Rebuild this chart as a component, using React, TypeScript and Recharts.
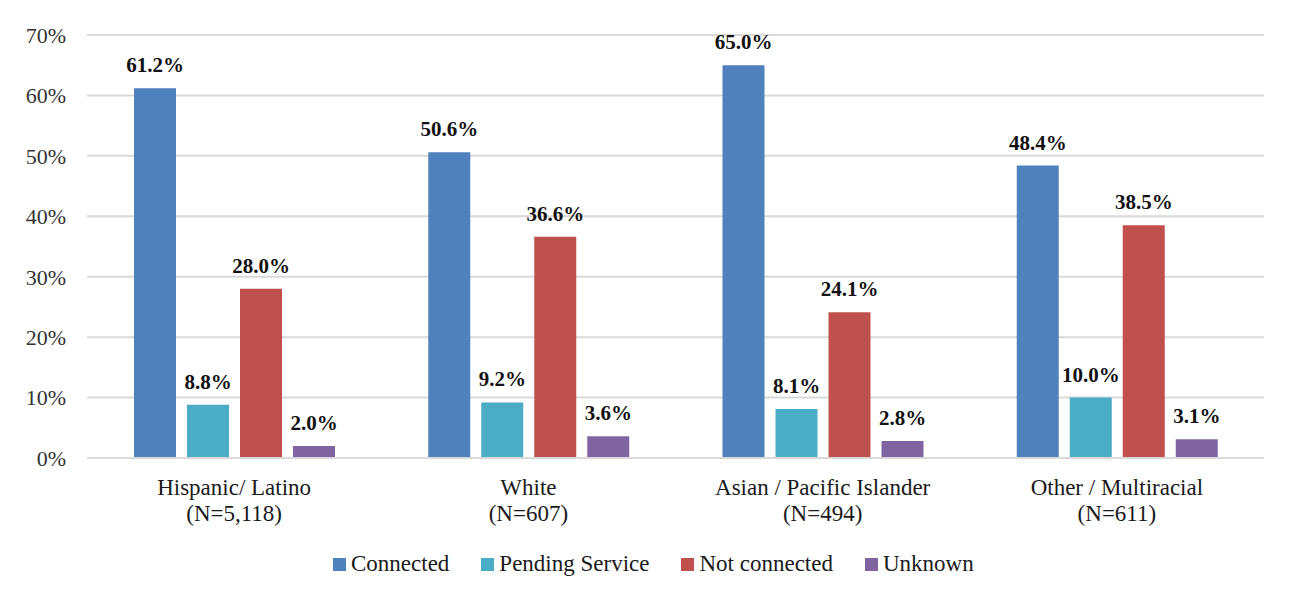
import { BarChart, Bar, XAxis, YAxis, CartesianGrid, LabelList } from "recharts"

// Race / ethnicity groups and their sample sizes
const groups = ["Hispanic/ Latino", "White", "Asian / Pacific Islander", "Other / Multiracial"]
const groupSizes = ["(N=5,118)", "(N=607)", "(N=494)", "(N=611)"]

// Percent of households in each connection status
const connected = [61.2, 50.6, 65.0, 48.4]
const pendingService = [8.8, 9.2, 8.1, 10.0]
const notConnected = [28.0, 36.6, 24.1, 38.5]
const unknown = [2.0, 3.6, 2.8, 3.1]

const yTicks = [0, 10, 20, 30, 40, 50, 60, 70]

const series = [
  { key: "connected", name: "Connected", color: "#4F81BD" },
  { key: "pending", name: "Pending Service", color: "#4BACC6" },
  { key: "notConnected", name: "Not connected", color: "#C0504D" },
  { key: "unknown", name: "Unknown", color: "#8064A2" },
]

const data = groups.map((group, i) => ({
  group,
  size: groupSizes[i],
  connected: connected[i],
  pending: pendingService[i],
  notConnected: notConnected[i],
  unknown: unknown[i],
}))

const FONT = "Liberation Serif, Times New Roman, serif"

const GroupTick = ({ x, y, payload, index }: any) => (
  <g transform={`translate(${x},${y})`}>
    <text textAnchor="middle" fontFamily={FONT} fontSize={23} fill="#1a1a1a">
      <tspan x={0} dy={35}>{payload.value}</tspan>
      <tspan x={0} dy={26}>{groupSizes[index]}</tspan>
    </text>
  </g>
)

// legend sits under the plot, drawn as plain HTML
const LegendRow = () => (
  <div
    style={{
      position: "absolute",
      left: 333,
      top: 551,
      display: "flex",
      alignItems: "center",
      gap: 32,
      fontFamily: FONT,
      fontSize: 23,
      color: "#1a1a1a",
      whiteSpace: "nowrap",
    }}
  >
    {series.map((s) => (
      <div key={s.key} style={{ display: "flex", alignItems: "center", gap: 5 }}>
        <span style={{ width: 13, height: 13, background: s.color, display: "inline-block" }} />
        <span>{s.name}</span>
      </div>
    ))}
  </div>
)

export default function App() {
  // the outer box carries the light frame (left and top edges of the cropped figure)
  return (
    <div
      style={{
        position: "relative",
        marginLeft: -2,
        marginTop: -2,
        width: 1284,
        height: 588,
        borderLeft: "2px solid #d4d4d4",
        borderTop: "2px solid #d4d4d4",
        overflow: "hidden",
        background: "#fff",
      }}
    >
      <div style={{ position: "absolute", left: -8, top: -8, width: 1292, height: 596 }}>
        <BarChart
          width={1292}
          height={596}
          data={data}
          margin={{ top: 35, right: 28, bottom: 0, left: 6 }}
          barSize={42}
          barGap={11}
        >
          <CartesianGrid vertical={false} stroke="#d9d9d9" strokeWidth={2} />
          <XAxis
            dataKey="group"
            tick={<GroupTick />}
            tickLine={false}
            tickSize={0}
            axisLine={{ stroke: "#d9d9d9", strokeWidth: 2 }}
            height={138}
            interval={0}
          />
          <YAxis
            domain={[0, 70]}
            ticks={yTicks}
            tickFormatter={(v) => `${v}%`}
            width={81}
            tickLine={false}
            tickSize={0}
            tickMargin={21}
            axisLine={false}
            tick={{ fontFamily: FONT, fontSize: 22, fill: "#333" }}
          />
          {series.map((s) => (
            <Bar key={s.key} dataKey={s.key} name={s.name} fill={s.color} isAnimationActive={false}>
              <LabelList
                dataKey={s.key}
                position="top"
                offset={16}
                formatter={(v: any) => `${Number(v).toFixed(1)}%`}
                style={{ fontFamily: FONT, fontSize: 21, fontWeight: "bold", fill: "#111" }}
              />
            </Bar>
          ))}
        </BarChart>
        <LegendRow />
      </div>
    </div>
  )
}
